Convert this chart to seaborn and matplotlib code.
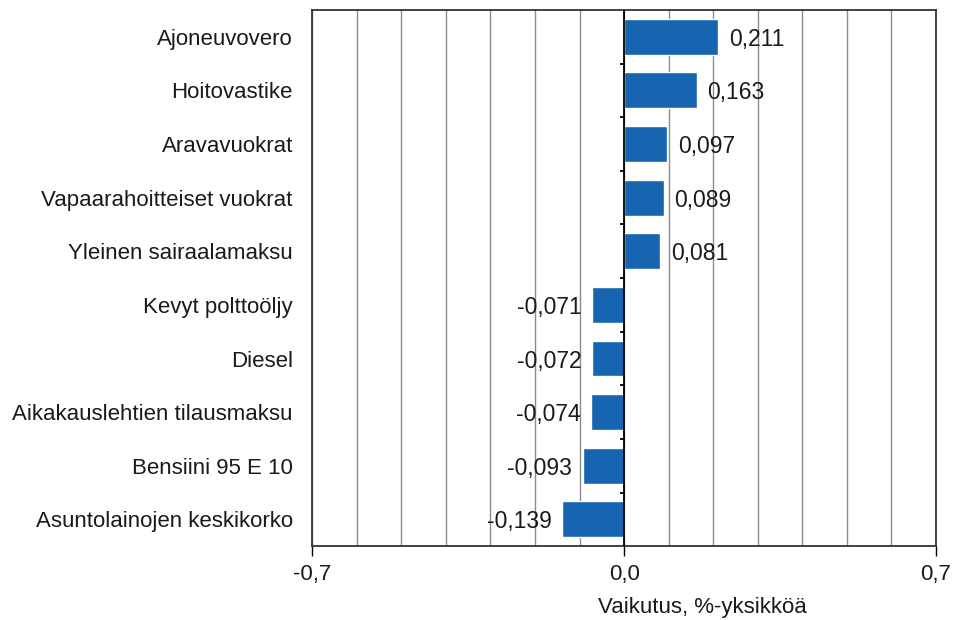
import matplotlib
matplotlib.use("Agg")
import matplotlib.pyplot as plt
import matplotlib.ticker as mticker
import numpy as np
import pandas as pd
import seaborn as sns

categories = [
    "Ajoneuvovero",
    "Hoitovastike",
    "Aravavuokrat",
    "Vapaarahoitteiset vuokrat",
    "Yleinen sairaalamaksu",
    "Kevyt polttoöljy",
    "Diesel",
    "Aikakauslehtien tilausmaksu",
    "Bensiini 95 E 10",
    "Asuntolainojen keskikorko",
]
values = [0.211, 0.163, 0.097, 0.089, 0.081, -0.071, -0.072, -0.074, -0.093, -0.139]
x_ticks = [-0.7, 0.0, 0.7]

BAR_COLOR = "#1764b0"
TEXT_COLOR = "#1a1a1a"
FS = 16

sns.set_theme(style="white")
plt.rcParams["font.family"] = ["Liberation Sans", "DejaVu Sans"]

df = pd.DataFrame({"item": categories, "value": values})


def comma(x, pos=None):
    return f"{x:.1f}".replace(".", ",")


fig = plt.figure(figsize=(9.55, 6.2), dpi=100)
ax = fig.add_axes([0.327, 0.119, 0.653, 0.865])

sns.barplot(data=df, x="value", y="item", orient="h", color=BAR_COLOR,
            width=0.67, saturation=1, ax=ax, zorder=3)

ax.set_xlim(-0.7, 0.7)
ax.set_ylim(len(categories) - 0.5, -0.5)
ax.xaxis.set_major_locator(mticker.FixedLocator(x_ticks))
ax.xaxis.set_minor_locator(mticker.MultipleLocator(0.1))
ax.xaxis.set_major_formatter(mticker.FuncFormatter(comma))
ax.grid(axis="x", which="both", color="#8c8c8c", linewidth=1.0, zorder=0)
ax.tick_params(axis="x", which="major", direction="out", length=7, width=1,
               color="black", labelsize=FS, pad=6, bottom=True, labelcolor=TEXT_COLOR)
ax.tick_params(axis="x", which="minor", length=0)
ax.tick_params(axis="y", length=0, labelsize=FS, pad=14, labelcolor=TEXT_COLOR)

for s in ax.spines.values():
    s.set_visible(True)
    s.set_color("#333333")
    s.set_linewidth(1.3)

# zero line with small ticks between categories
ax.axvline(0, color="black", linewidth=1.3, zorder=4)
bounds = np.arange(len(categories) + 1) - 0.5
ax.hlines(bounds[1:-1], -0.009, 0, color="black", linewidth=1.3, zorder=4)

for i, v in enumerate(values):
    off = 0.024
    ax.text(v + off if v > 0 else v - off, i, f"{v:.3f}".replace(".", ","),
            ha="left" if v > 0 else "right", va="center_baseline", fontsize=FS + 0.5,
            color=TEXT_COLOR, zorder=5)

ax.set_ylabel("")
ax.set_xlabel("Vaikutus, %-yksikköä", fontsize=FS, color=TEXT_COLOR)
ax.xaxis.set_label_coords(0.625, -0.095)

fig.savefig("out.png", dpi=100)
